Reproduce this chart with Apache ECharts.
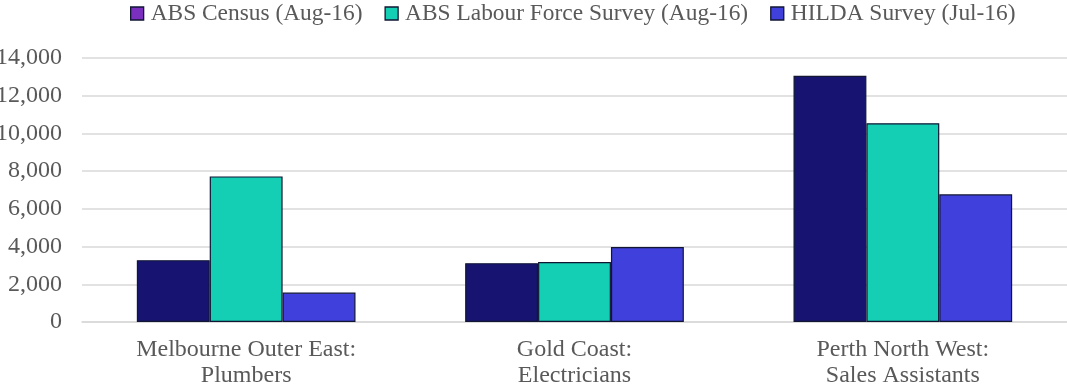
<!DOCTYPE html>
<html><head><meta charset="utf-8">
<script src="https://cdn.jsdelivr.net/npm/echarts@6/dist/echarts.min.js"></script>
<style>html,body{margin:0;padding:0;background:#fff}#c{width:1067px;height:385px}</style>
</head><body><div id="c"></div>
<script>
const categories = ["Melbourne Outer East:\nPlumbers", "Gold Coast:\nElectricians", "Perth North West:\nSales Assistants"];
const seriesNames = ["ABS Census (Aug-16)", "ABS Labour Force Survey (Aug-16)", "HILDA Survey (Jul-16)"];
const censusValues = [3280, 3120, 13060];
const lfsValues = [7720, 3180, 10540];
const hildaValues = [1560, 3980, 6770];
const yTicks = {min: 0, max: 14000, interval: 2000};

const barColors = ["#161470", "#14CFB4", "#4040DC"];
const legendColors = ["#7B2FBE", "#14CFB4", "#4040DC"];
const font = "'Liberation Serif', 'Times New Roman', serif";
const chart = echarts.init(document.getElementById('c'));
const values = [censusValues, lfsValues, hildaValues];
chart.setOption({
  animation: false,
  textStyle: {fontFamily: font},
  legend: {
    top: 2, left: 130, padding: [0, 0],
    itemWidth: 13, itemHeight: 13, itemGap: 22,
    icon: 'rect',
    textStyle: {fontFamily: font, fontSize: 23.4, color: '#595959', padding: [0, 0, 0, 2]},
    data: seriesNames.map((n, i) => ({name: n, itemStyle: {color: legendColors[i], borderColor: '#111633', borderWidth: 1.3}}))
  },
  grid: {left: 82, right: 0, top: 58, bottom: 63, containLabel: false, outerBoundsMode: 'none'},
  xAxis: {
    type: 'category', data: categories,
    axisTick: {show: false},
    axisLine: {lineStyle: {color: '#d9d9d9', width: 1.5}},
    axisLabel: {fontFamily: font, fontSize: 24, color: '#595959', lineHeight: 26, margin: 15}
  },
  yAxis: {
    type: 'value', min: yTicks.min, max: yTicks.max, interval: yTicks.interval,
    axisLine: {show: false}, axisTick: {show: false},
    splitLine: {lineStyle: {color: '#d9d9d9', width: 1.5}},
    axisLabel: {fontFamily: font, fontSize: 24, color: '#595959', margin: 20,
      formatter: v => v.toLocaleString('en-US')}
  },
  series: seriesNames.map((n, i) => ({
    name: n, type: 'bar', data: values[i],
    barGap: '0%', barCategoryGap: '33.4%',
    itemStyle: {color: barColors[i], borderColor: '#111633', borderWidth: 1.2}
  }))
});
</script></body></html>
